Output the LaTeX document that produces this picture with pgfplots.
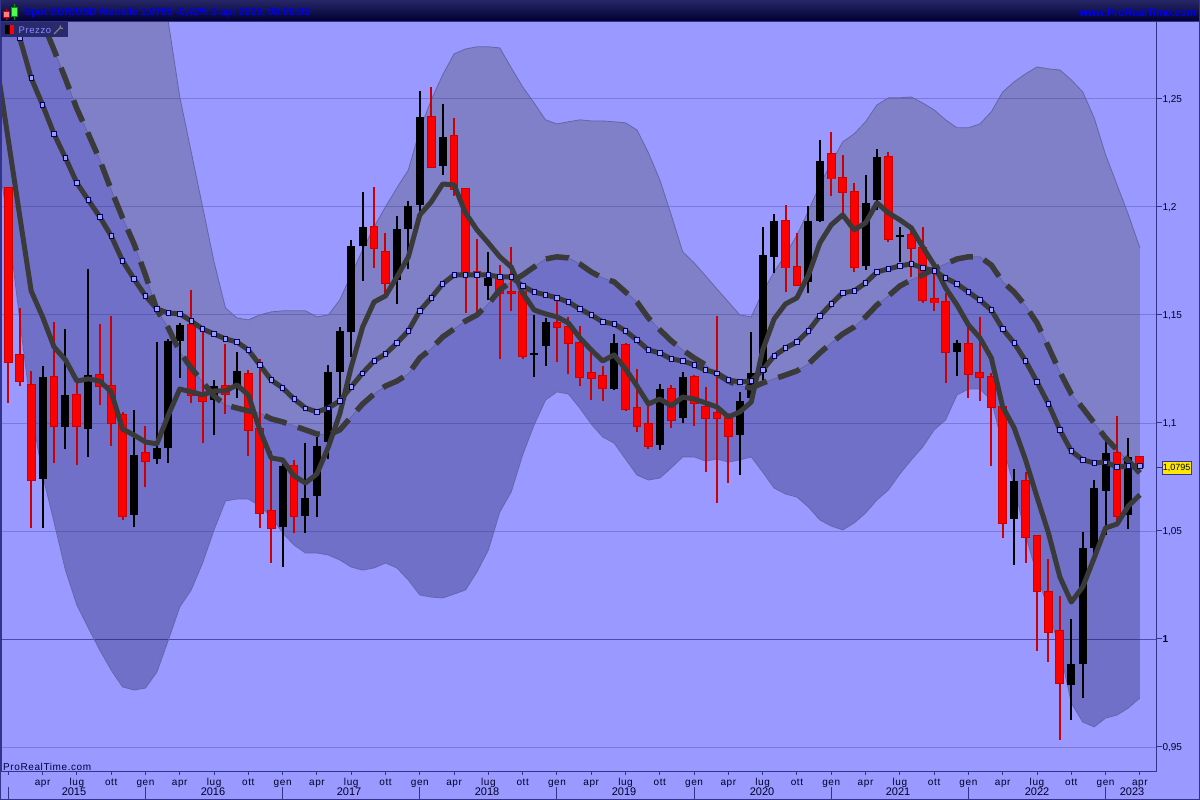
\documentclass[border=0pt]{standalone}
\usepackage{fontspec}
\setmainfont{Liberation Sans}
\newfontfamily\spacedfont[LetterSpace=6]{Liberation Sans}
\usepackage{pgfplots}
\usepackage{pgfplotstable}
\pgfplotsset{compat=1.18}

\definecolor{bgc}{HTML}{9999FF}
\definecolor{axisc}{HTML}{33338A}
\definecolor{gridc}{HTML}{20207A}
\definecolor{upc}{HTML}{8080C8}
\definecolor{lowc}{HTML}{7070C8}
\definecolor{edgec}{HTML}{6464A8}
\definecolor{linec}{HTML}{3A3A3A}
\definecolor{dotc}{HTML}{9C9CF4}
\definecolor{redc}{HTML}{FF0000}
\definecolor{redd}{HTML}{CC0000}

% monthly candles, i=0 is gen 2015
\pgfplotstableread{
i o h l c
0 1.2088 1.2088 1.1093 1.1282
1 1.1315 1.1532 1.1171 1.1194
2 1.1176 1.1241 1.0514 1.0736
4 1.1213 1.1468 1.0815 1.0986
6 1.1130 1.1199 1.0806 1.0986
8 1.1222 1.1458 1.1083 1.1171
9 1.1171 1.1495 1.0894 1.1000
10 1.1037 1.1051 1.0551 1.0569
12 1.0861 1.0986 1.0704 1.0824
16 1.1454 1.1616 1.1093 1.1130
17 1.1130 1.1431 1.0907 1.1102
19 1.1171 1.1366 1.1042 1.1134
21 1.1227 1.1245 1.0847 1.0968
22 1.0972 1.1296 1.0514 1.0583
23 1.0593 1.0870 1.0352 1.0514
25 1.0801 1.0829 1.0491 1.0569
32 1.1907 1.2093 1.1718 1.1810
33 1.1792 1.1880 1.1593 1.1648
37 1.2417 1.2556 1.2185 1.2185
39 1.2329 1.2412 1.2051 1.2083
40 1.2083 1.2083 1.1509 1.1699
41 1.1699 1.1852 1.1514 1.1681
43 1.1671 1.1731 1.1296 1.1602
44 1.1606 1.1815 1.1519 1.1602
45 1.1606 1.1606 1.1296 1.1310
48 1.1463 1.1569 1.1282 1.1444
49 1.1444 1.1491 1.1227 1.1370
50 1.1370 1.1449 1.1171 1.1213
51 1.1231 1.1338 1.1106 1.1208
52 1.1218 1.1264 1.1102 1.1162
54 1.1361 1.1370 1.1056 1.1065
55 1.1069 1.1250 1.0958 1.0986
56 1.0995 1.1093 1.0880 1.0894
58 1.1157 1.1176 1.0977 1.1014
60 1.1213 1.1222 1.0986 1.1093
61 1.1074 1.1167 1.0773 1.1023
62 1.1046 1.1495 1.0630 1.1023
63 1.1023 1.1046 1.0722 1.0940
68 1.1935 1.2009 1.1606 1.1718
69 1.1722 1.1880 1.1634 1.1639
72 1.2245 1.2347 1.2051 1.2130
73 1.2134 1.2241 1.1972 1.2069
74 1.2069 1.2111 1.1699 1.1722
77 1.2231 1.2255 1.1838 1.1852
79 1.1870 1.1894 1.1676 1.1810
80 1.1810 1.1907 1.1556 1.1569
81 1.1574 1.1708 1.1519 1.1556
82 1.1560 1.1602 1.1185 1.1329
84 1.1366 1.1444 1.1116 1.1227
85 1.1231 1.1491 1.1102 1.1213
86 1.1213 1.1231 1.0801 1.1074
87 1.1074 1.1083 1.0468 1.0537
89 1.0731 1.0773 1.0352 1.0472
90 1.0477 1.0477 0.9944 1.0222
91 1.0218 1.0370 0.9894 1.0032
92 1.0037 1.0199 0.9532 0.9796
97 1.0861 1.1032 1.0542 1.0569
99 1.0843 1.0847 1.0795 1.0795
}\redcandles

\pgfplotstableread{
i o h l c
3 1.0741 1.1264 1.0514 1.1213
5 1.0981 1.1435 1.0880 1.1130
7 1.0972 1.1713 1.0843 1.1222
11 1.0574 1.1060 1.0519 1.0852
13 1.0833 1.1375 1.0810 1.0884
14 1.0884 1.1389 1.0815 1.1380
15 1.1380 1.1463 1.1208 1.1454
18 1.1106 1.1199 1.0944 1.1171
20 1.1176 1.1329 1.1116 1.1241
24 1.0519 1.0810 1.0333 1.0801
26 1.0569 1.0907 1.0491 1.0653
27 1.0662 1.0935 1.0565 1.0894
28 1.0912 1.1269 1.0833 1.1236
29 1.1236 1.1444 1.1106 1.1426
30 1.1421 1.1847 1.1306 1.1819
31 1.1819 1.2069 1.1657 1.1907
34 1.1662 1.1958 1.1551 1.1898
35 1.1898 1.2028 1.1713 1.2005
36 1.2009 1.2537 1.1963 1.2417
38 1.2190 1.2477 1.2148 1.2324
42 1.1634 1.1792 1.1569 1.1671
46 1.1315 1.1500 1.1213 1.1325
47 1.1356 1.1486 1.1264 1.1468
53 1.1157 1.1412 1.1153 1.1370
57 1.0898 1.1181 1.0875 1.1157
59 1.1023 1.1236 1.1000 1.1213
64 1.0944 1.1144 1.0759 1.1102
65 1.1116 1.1421 1.1116 1.1231
66 1.1236 1.1907 1.1185 1.1778
67 1.1769 1.1968 1.1694 1.1935
70 1.1653 1.2005 1.1602 1.1935
71 1.1935 1.2310 1.1931 1.2213
75 1.1727 1.2148 1.1708 1.2019
76 1.2032 1.2269 1.1986 1.2231
78 1.1861 1.1907 1.1745 1.1870
83 1.1329 1.1384 1.1218 1.1370
88 1.0556 1.0787 1.0343 1.0731
93 0.9787 1.0093 0.9625 0.9884
94 0.9884 1.0495 0.9727 1.0421
95 1.0421 1.0736 1.0389 1.0699
96 1.0685 1.0917 1.0481 1.0861
98 1.0574 1.0931 1.0509 1.0843
}\blackcandles

% up/low = envelope, dash = long average, dot = middle average, fast = short average
\pgfplotstableread{
i up dash dot fast low
-1 1.4050 1.3398 1.3144 1.2657 1.2264
0 1.4000 1.3259 1.2958 1.2310 1.1917
1 1.3950 1.3120 1.2782 1.1958 1.1477
2 1.3900 1.2981 1.2597 1.1611 1.1060
3 1.3850 1.2856 1.2472 1.1491 1.0759
4 1.3800 1.2727 1.2338 1.1352 1.0542
5 1.3750 1.2593 1.2227 1.1292 1.0319
6 1.3700 1.2454 1.2111 1.1194 1.0157
7 1.3650 1.2338 1.2032 1.1204 1.0051
8 1.3600 1.2218 1.1954 1.1194 0.9949
9 1.3550 1.2079 1.1866 1.1144 0.9856
10 1.3500 1.1949 1.1750 1.0972 0.9778
11 1.3450 1.1829 1.1667 1.0944 0.9764
12 1.3400 1.1685 1.1588 1.0912 0.9773
13 1.3190 1.1523 1.1528 1.0903 0.9847
14 1.2856 1.1440 1.1509 1.1037 0.9995
15 1.2509 1.1329 1.1505 1.1157 1.0148
16 1.2255 1.1255 1.1472 1.1144 1.0227
17 1.2000 1.1190 1.1435 1.1130 1.0352
18 1.1745 1.1125 1.1412 1.1148 1.0505
19 1.1532 1.1083 1.1389 1.1148 1.0639
20 1.1486 1.1069 1.1375 1.1176 1.0648
21 1.1477 1.1056 1.1338 1.1130 1.0648
22 1.1500 1.1046 1.1269 1.0968 1.0616
23 1.1514 1.1019 1.1199 1.0838 1.0565
24 1.1519 1.1005 1.1162 1.0829 1.0491
25 1.1519 1.0986 1.1111 1.0755 1.0435
26 1.1519 1.0968 1.1069 1.0722 1.0398
27 1.1491 1.0949 1.1051 1.0764 1.0398
28 1.1500 1.0944 1.1069 1.0889 1.0389
29 1.1569 1.0968 1.1102 1.1042 1.0366
30 1.1685 1.1028 1.1167 1.1259 1.0333
31 1.1801 1.1088 1.1231 1.1444 1.0319
32 1.1907 1.1134 1.1287 1.1560 1.0329
33 1.2000 1.1171 1.1319 1.1588 1.0352
34 1.2088 1.1194 1.1370 1.1676 1.0329
35 1.2171 1.1227 1.1426 1.1769 1.0273
36 1.2356 1.1301 1.1519 1.1963 1.0204
37 1.2495 1.1343 1.1579 1.2023 1.0194
38 1.2611 1.1398 1.1644 1.2106 1.0190
39 1.2708 1.1435 1.1685 1.2102 1.0208
40 1.2731 1.1472 1.1685 1.1972 1.0227
41 1.2741 1.1500 1.1685 1.1894 1.0310
42 1.2741 1.1551 1.1685 1.1833 1.0412
43 1.2736 1.1616 1.1676 1.1769 1.0588
44 1.2644 1.1653 1.1676 1.1722 1.0681
45 1.2556 1.1685 1.1634 1.1602 1.0852
46 1.2481 1.1722 1.1606 1.1523 1.0991
47 1.2403 1.1759 1.1593 1.1505 1.1106
48 1.2384 1.1769 1.1579 1.1491 1.1144
49 1.2394 1.1764 1.1560 1.1463 1.1134
50 1.2403 1.1736 1.1528 1.1394 1.1069
51 1.2398 1.1699 1.1500 1.1338 1.0995
52 1.2398 1.1671 1.1468 1.1287 1.0935
53 1.2394 1.1653 1.1458 1.1315 1.0907
54 1.2389 1.1606 1.1426 1.1250 1.0833
55 1.2356 1.1560 1.1384 1.1171 1.0759
56 1.2250 1.1486 1.1338 1.1088 1.0736
57 1.2125 1.1431 1.1324 1.1111 1.0745
58 1.1963 1.1380 1.1296 1.1079 1.0792
59 1.1792 1.1338 1.1287 1.1120 1.0843
60 1.1741 1.1301 1.1269 1.1111 1.0843
61 1.1681 1.1269 1.1245 1.1093 1.0824
62 1.1620 1.1227 1.1231 1.1074 1.0833
63 1.1560 1.1194 1.1199 1.1028 1.0819
64 1.1500 1.1171 1.1190 1.1051 1.0829
65 1.1491 1.1162 1.1194 1.1097 1.0843
66 1.1606 1.1185 1.1245 1.1338 1.0773
67 1.1699 1.1204 1.1310 1.1481 1.0699
68 1.1778 1.1222 1.1347 1.1551 1.0671
69 1.1870 1.1241 1.1375 1.1579 1.0657
70 1.1981 1.1273 1.1426 1.1685 1.0611
71 1.2102 1.1324 1.1495 1.1833 1.0551
72 1.2204 1.1370 1.1551 1.1917 1.0523
73 1.2301 1.1412 1.1602 1.1963 1.0505
74 1.2338 1.1444 1.1611 1.1894 1.0537
75 1.2394 1.1491 1.1648 1.1926 1.0583
76 1.2472 1.1546 1.1699 1.2019 1.0644
77 1.2505 1.1588 1.1713 1.1972 1.0690
78 1.2505 1.1634 1.1727 1.1940 1.0764
79 1.2509 1.1662 1.1736 1.1903 1.0829
80 1.2481 1.1685 1.1718 1.1815 1.0889
81 1.2449 1.1713 1.1704 1.1731 1.0968
82 1.2403 1.1736 1.1671 1.1625 1.1014
83 1.2366 1.1759 1.1644 1.1546 1.1130
84 1.2366 1.1769 1.1606 1.1454 1.1157
85 1.2384 1.1769 1.1569 1.1394 1.1157
86 1.2440 1.1731 1.1523 1.1301 1.1106
87 1.2532 1.1653 1.1435 1.1074 1.0898
88 1.2579 1.1606 1.1370 1.0977 1.0704
89 1.2616 1.1542 1.1287 1.0829 1.0481
90 1.2648 1.1463 1.1190 1.0657 1.0296
91 1.2639 1.1352 1.1088 1.0491 1.0134
92 1.2634 1.1236 1.0968 1.0287 0.9949
93 1.2588 1.1134 1.0870 1.0171 0.9704
94 1.2532 1.1069 1.0829 1.0241 0.9616
95 1.2412 1.1000 1.0815 1.0375 0.9593
96 1.2241 1.0931 1.0819 1.0514 0.9634
97 1.2102 1.0875 1.0796 1.0532 0.9648
98 1.1963 1.0824 1.0801 1.0616 0.9681
99 1.1810 1.0769 1.0801 1.0667 0.9727
}\averages

\pgfplotsset{
  wick/.style={forget plot, draw=none, mark=none,
    error bars/.cd, y dir=plus, y explicit, error mark=none,
    error bar style={draw=#1, solid, line width=2pt}},
  body/.style 2 args={forget plot, draw=none, mark=none,
    error bars/.cd, y dir=plus, y explicit, error mark=none,
    error bar style={draw=#1, solid, line width=#2}},
}

\begin{document}
\begin{tikzpicture}
\useasboundingbox (0,0) rectangle (1200pt,800pt);
\fill[bgc] (0,0) rectangle (1200pt,800pt);

\begin{axis}[
  at={(1pt,29pt)}, anchor=south west,
  scale only axis, width=1155pt, height=749pt,
  xmin=-0.639, xmax=100.41,
  ymin=0.9389, ymax=1.2856,
  axis line style={color=axisc, line width=1pt},
  xtick pos=bottom, ytick pos=right, yticklabel pos=right,
  major tick length=0pt,
  xtick={0,3,...,99},
  xticklabels={,apr,lug,ott,gen,apr,lug,ott,gen,apr,lug,ott,gen,apr,lug,ott,gen,apr,lug,ott,gen,apr,lug,ott,gen,apr,lug,ott,gen,apr,lug,ott,gen,apr},
  xticklabel style={font=\spacedfont\fontsize{10}{12}\selectfont, text=black!85!blue, text height=7pt, text depth=2pt, yshift=-3.5pt},
  ytick={0.95,1,1.05,1.1,1.15,1.2,1.25},
  yticklabels={{0,95},{\bfseries 1},{1,05},{1,1},{1,15},{1,2},{1,25}},
  yticklabel style={font=\fontsize{10}{12}\selectfont, text=black!85!blue, anchor=west, xshift=3pt, yshift=-0.5pt},
]
% bands either side of the long average, painted from the top down
\addplot[forget plot, fill=upc, draw=none] table[x=i,y=up] {\averages} \closedcycle;
\addplot[forget plot, fill=lowc, draw=none] table[x=i,y=dash] {\averages} \closedcycle;
\addplot[forget plot, fill=bgc, draw=none] table[x=i,y=low] {\averages} \closedcycle;
\fill[bgc] (axis cs:99,0.9389) rectangle (axis cs:100.41,1.2856);

% grid lines, stronger at parity
\foreach \level in {0.95,1.05,1.1,1.15,1.2,1.25} {
  \edef\temp{\noexpand\draw[gridc, opacity=0.25, line width=0.9pt] (axis cs:-0.639,\level) -- (axis cs:100.41,\level);}\temp
}
\draw[gridc, opacity=0.65, line width=0.9pt] (axis cs:-0.639,1) -- (axis cs:100.41,1);

\addplot[forget plot, draw=edgec, line width=0.8pt] table[x=i,y=up] {\averages};
\addplot[forget plot, draw=edgec, line width=0.8pt] table[x=i,y=dash] {\averages};
\addplot[forget plot, draw=edgec, line width=0.8pt] table[x=i,y=low] {\averages};

% candles
\addplot[wick=redd] table[x=i,y=l,y error plus expr=\thisrow{h}-\thisrow{l}] {\redcandles};
\addplot[body={redd}{8.8pt}] table[x=i,y expr=\thisrow{c}-0.0003,y error plus expr=\thisrow{o}-\thisrow{c}+0.0006] {\redcandles};
\addplot[body={redc}{6.8pt}] table[x=i,y=c,y error plus expr=\thisrow{o}-\thisrow{c}] {\redcandles};
\addplot[wick=black] table[x=i,y=l,y error plus expr=\thisrow{h}-\thisrow{l}] {\blackcandles};
\addplot[body={black}{8pt}] table[x=i,y=o,y error plus expr=\thisrow{c}-\thisrow{o}] {\blackcandles};

% averages
\addplot[forget plot, linec, line width=5.5pt, dash pattern=on 23pt off 12pt] table[x=i,y=dash] {\averages};
\addplot[forget plot, linec, line width=5pt, line join=round] table[x=i,y=dot] {\averages};
\addplot[forget plot, only marks, mark=square*, mark size=2.2pt,
  mark options={solid, fill=dotc, draw=black!60!blue, line width=0.7pt}] table[x=i,y=dot] {\averages};
\addplot[forget plot, linec, line width=5pt, line join=round] table[x=i,y=fast] {\averages};
\end{axis}

% everything round the plot, in picture pixels from the top left
\begin{scope}[x=1pt, y=-1pt, yshift=800pt]
  \shade[top color=axisc!75!black, bottom color=blue!20!black] (0,0) rectangle (1200,21);
  \draw[axisc, line width=1pt] (0,21.5) -- (1200,21.5);
  \draw[axisc, line width=1pt] (0.5,0) -- (0.5,800) (0,799.5) -- (1200,799.5) (1199.5,0) -- (1199.5,800);

  % axis frame and ticks on top of the fills
  \draw[axisc, line width=1pt] (1.5,22) -- (1.5,771.5) -- (1156.5,771.5) -- (1156.5,22);
  \foreach \k in {0,...,33} {
    \draw[axisc, line width=1pt] ({8.3+34.29*\k},772) -- ({8.3+34.29*\k},775);
  }
  \foreach \k in {0,...,6} {
    \draw[axisc, line width=1pt] (1157,{99+108*\k}) -- (1161.5,{99+108*\k});
  }

  % header icon and title
  \draw[red!80!black, line width=1pt] (6,9) -- (6,20);
  \draw[red!80!black, fill=red!50!white, line width=0.7pt] (3.5,11.5) rectangle (9,17);
  \draw[green!60!black, line width=1pt] (14.5,4) -- (14.5,20);
  \draw[green!60!black, fill=green!70!white, line width=0.7pt] (11.5,7.5) rectangle (17.5,16.5);
  \node[anchor=west, inner sep=0pt, text=blue!95!black, font=\bfseries\fontsize{10.4}{12}\selectfont] at (24,12.5)
    {Spot EUR/USD Mensile 1,0795 -0,42\% 3 apr 2023, 08:00:03};
  \node[anchor=east, inner sep=0pt, text=blue!95!black, font=\bfseries\fontsize{10.6}{12}\selectfont] at (1196.5,12.5)
    {www.ProRealTime.com};

  % legend tab
  \fill[axisc!80!black] (1,22) rectangle (67.5,37.5);
  \fill[black] (5,25) rectangle (10,34);
  \fill[red] (10,25) rectangle (14,34);
  \node[anchor=west, inner sep=0pt, text=blue!45!white, font=\spacedfont\fontsize{9.5}{12}\selectfont] at (18.5,30) {Prezzo};
  \draw[gray, line width=1.3pt] (54,34) -- (60,28) (60,28) -- (60.5,25.5) (60,28) -- (63,28.5);

  % year row
  \foreach \k/\yr/\xpos in {0/2015/74,1/2016/213,2/2017/349,3/2018/487,4/2019/624,5/2020/762,6/2021/898,7/2022/1037,8/2023/1132} {
    \draw[axisc, line width=1pt] ({8.3+137.16*\k},787) -- ({8.3+137.16*\k},799);
    \node[inner sep=0pt, text=black!85!blue, font=\fontsize{11}{12}\selectfont] at (\xpos,792) {\yr};
  }

  % watermark
  \node[anchor=west, inner sep=0pt, text=black!75!blue, font=\spacedfont\fontsize{10}{12}\selectfont] at (3,766.5) {ProRealTime.com};

  % last price tag
  \draw[axisc, line width=1pt] (1156,467.5) -- (1162,467.5);
  \node[anchor=west, draw=axisc, fill=yellow!90!orange, text=black, line width=0.8pt, inner xsep=1pt, inner ysep=1pt,
    minimum height=13pt, font=\fontsize{9}{11}\selectfont] at (1161.5,467.5) {1,0795};
\end{scope}
\end{tikzpicture}
\end{document}
